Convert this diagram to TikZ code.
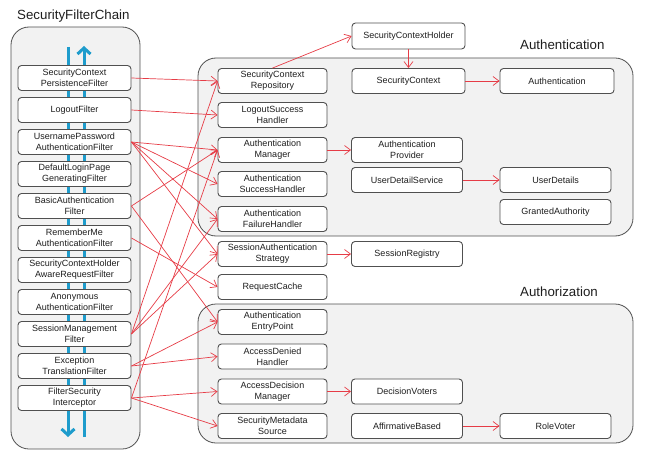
\documentclass[tikz,border=0pt]{standalone}
\usepackage{fontspec}
\setmainfont{Liberation Sans}
\usetikzlibrary{arrows.meta}
\definecolor{redline}{RGB}{230,60,70}
\definecolor{flowblue}{RGB}{30,156,204}
\definecolor{panelgray}{RGB}{242,242,242}
\definecolor{edgegray}{RGB}{80,80,80}
\definecolor{inkgray}{RGB}{30,30,30}

\begin{document}
\begin{tikzpicture}[x=1pt,y=-1pt,
  basebox/.style={draw=edgegray, fill=white, rounded corners=3.5pt, line width=0.9pt,
    align=center, inner sep=0pt, font=\fontsize{9}{11}\selectfont, text=inkgray},
  filterbox/.style={basebox, minimum width=113pt, minimum height=25pt},
  midbox/.style={basebox, minimum width=109pt, minimum height=25pt},
  rightbox/.style={basebox, minimum width=111pt, minimum height=25pt},
  panelbg/.style={draw=edgegray, fill=panelgray, rounded corners=18pt, line width=0.8pt, inner sep=0pt},
  heading/.style={font=\fontsize{13.3}{15}\selectfont, text=inkgray, inner sep=0pt, anchor=base west},
  uselink/.style={draw=redline, line width=0.7pt, -{Straight Barb[length=6pt,width=9pt]}},
  flowarrow/.style={draw=flowblue, line width=3pt, -{Straight Barb[length=6pt,width=13pt]}}
]
\useasboundingbox (0,0) rectangle (647,465);

% group panels
\node[panelbg, minimum width=129pt, minimum height=422pt] (chain) at (75.5,238) {};
\node[panelbg, minimum width=435pt, minimum height=178pt] (authn) at (415.5,147) {};
\node[panelbg, minimum width=435pt, minimum height=139pt] (authz) at (415.5,373.5) {};

\node[heading] (chaintitle) at (17,19.5) {SecurityFilterChain};
\node[heading] (authntitle) at (520,49.3) {Authentication};
\node[heading] (authztitle) at (520,296) {Authorization};

% request / response flow through the chain
\coordinate (inTop) at (68,47);
\coordinate (inBottom) at (68,437);
\coordinate (outBottom) at (84,437);
\coordinate (outTop) at (84,46);
\draw[flowarrow] (inTop) -- (inBottom);
\draw[flowarrow] (outBottom) -- (outTop);

% filters
\node[filterbox] (f1) at (74.5,78) {SecurityContext\\PersistenceFilter};
\node[filterbox] (f2) at (74.5,110) {LogoutFilter};
\node[filterbox] (f3) at (74.5,142) {UsernamePassword\\AuthenticationFilter};
\node[filterbox] (f4) at (74.5,174) {DefaultLoginPage\\GeneratingFilter};
\node[filterbox] (f5) at (74.5,206) {BasicAuthentication\\Filter};
\node[filterbox] (f6) at (74.5,238) {RememberMe\\AuthenticationFilter};
\node[filterbox] (f7) at (74.5,270) {SecurityContextHolder\\AwareRequestFilter};
\node[filterbox] (f8) at (74.5,302) {Anonymous\\AuthenticationFilter};
\node[filterbox] (f9) at (74.5,334) {SessionManagement\\Filter};
\node[filterbox] (f10) at (74.5,366) {Exception\\TranslationFilter};
\node[filterbox] (f11) at (74.5,398) {FilterSecurity\\Interceptor};

% collaborators
\node[midbox] (scr) at (272.5,81) {SecurityContext\\Repository};
\node[midbox] (lsh) at (272.5,115) {LogoutSuccess\\Handler};
\node[midbox] (am) at (272.5,150) {Authentication\\Manager};
\node[midbox] (ash) at (272.5,184) {Authentication\\SuccessHandler};
\node[midbox] (afh) at (272.5,219) {Authentication\\FailureHandler};
\node[midbox] (sas) at (272.5,254) {SessionAuthentication\\Strategy};
\node[midbox] (rc) at (272.5,287) {RequestCache};
\node[midbox] (aep) at (272.5,322) {Authentication\\EntryPoint};
\node[midbox] (adh) at (272.5,356.5) {AccessDenied\\Handler};
\node[midbox] (adm) at (272.5,391.5) {AccessDecision\\Manager};
\node[midbox] (sms) at (272.5,426) {SecurityMetadata\\Source};

\node[basebox, minimum width=113pt, minimum height=26pt] (sch) at (408.5,36) {SecurityContextHolder};
\node[basebox, minimum width=113pt, minimum height=25pt] (sc) at (408.5,81) {SecurityContext};
\node[rightbox] (ap) at (407,150) {Authentication\\Provider};
\node[rightbox] (uds) at (407,180) {UserDetailService};
\node[rightbox] (sr) at (407,254) {SessionRegistry};
\node[rightbox] (dv) at (407,391.5) {DecisionVoters};
\node[rightbox] (ab) at (407,426) {AffirmativeBased};

\node[basebox, minimum width=114pt, minimum height=25pt] (auth) at (557,81) {Authentication};
\node[rightbox] (ud) at (555.5,180) {UserDetails};
\node[rightbox] (ga) at (555.5,212) {GrantedAuthority};
\node[rightbox] (rv) at (555.5,426) {RoleVoter};

% filter -> collaborator links
\draw[uselink] (f1.east) -- (scr.west);
\draw[uselink] (f2.east) -- (lsh.west);
\draw[uselink] (f3.east) -- (am.west);
\draw[uselink] (f3.east) -- (ash.west);
\draw[uselink] (f3.east) -- (afh.west);
\draw[uselink] (f3.east) -- (sas.west);
\draw[uselink] (f5.east) -- (am.west);
\draw[uselink] (f5.east) -- (aep.west);
\draw[uselink] (f6.east) -- (rc.west);
\draw[uselink] (f9.east) -- (scr.west);
\draw[uselink] (f9.east) -- (afh.west);
\draw[uselink] (f9.east) -- (sas.west);
\draw[uselink] (f10.east) -- (aep.west);
\draw[uselink] (f10.east) -- (adh.west);
\draw[uselink] (f11.east) -- (am.west);
\draw[uselink] (f11.east) -- (adm.west);
\draw[uselink] (f11.east) -- (sms.west);

% collaborator -> collaborator links
\draw[uselink] (scr.north) -- (sch.west);
\draw[uselink] (sch.south) -- (sc.north);
\draw[uselink] (sc.east) -- (auth.west);
\draw[uselink] (am.east) -- (ap.west);
\draw[uselink] (uds.east) -- (ud.west);
\draw[uselink] (sas.east) -- (sr.west);
\draw[uselink] (adm.east) -- (dv.west);
\draw[uselink] (ab.east) -- (rv.west);
\end{tikzpicture}
\end{document}
